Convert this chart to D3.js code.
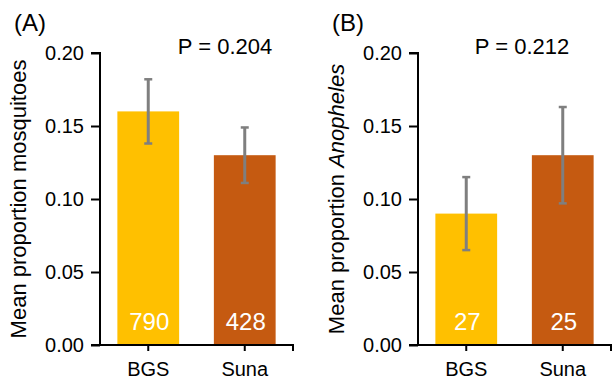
<!DOCTYPE html>
<html><head><meta charset="utf-8">
<script src="https://cdn.jsdelivr.net/npm/d3@7"></script>
<style>body{margin:0;background:#fff;} svg{display:block;font-family:"Liberation Sans",Arial,sans-serif;}</style>
</head><body><svg id="c" width="612" height="381"></svg>
<script>
const categories = ["BGS", "Suna"];
const colors = ["#FFC000", "#C55A11"];
const mosqMean = [0.16, 0.13];
const mosqLow = [0.138, 0.111];
const mosqHigh = [0.182, 0.149];
const mosqN = ["790", "428"];
const anoMean = [0.09, 0.13];
const anoLow = [0.065, 0.097];
const anoHigh = [0.115, 0.163];
const anoN = ["27", "25"];
const yTicks = [0, 0.05, 0.10, 0.15, 0.20];
const panels = [
  {label: "(A)", p: "P = 0.204", mean: mosqMean, lo: mosqLow, hi: mosqHigh, n: mosqN, x0: 100, x1: 293, pX: 225, titleX: 26, title: [["Mean proportion mosquitoes", false]]},
  {label: "(B)", p: "P = 0.212", mean: anoMean, lo: anoLow, hi: anoHigh, n: anoN, x0: 418, x1: 611, pX: 522, titleX: 344, title: [["Mean proportion ", false], ["Anopheles", true]]}
];
const svg = d3.select("#c");
const y = d3.scaleLinear().domain([0, 0.2]).range([345, 53]);

panels.forEach((P, pi) => {
  const g = svg.append("g");
  const x = d3.scaleBand().domain(categories).range([P.x0, P.x1]).paddingInner(0.36).paddingOuter(0.18);
  g.selectAll("rect.bar").data(categories).enter().append("rect")
    .attr("x", d => x(d)).attr("width", x.bandwidth())
    .attr("y", (d, i) => y(P.mean[i])).attr("height", (d, i) => y(0) - y(P.mean[i]))
    .attr("fill", (d, i) => colors[i]);
  const eb = g.selectAll("g.eb").data(categories).enter().append("g")
    .attr("stroke", "#7F7F7F").attr("fill", "none");
  eb.append("line").attr("x1", d => x(d) + x.bandwidth()/2).attr("x2", d => x(d) + x.bandwidth()/2)
    .attr("y1", (d, i) => y(P.lo[i])).attr("y2", (d, i) => y(P.hi[i])).attr("stroke-width", 3);
  [P.lo, P.hi].forEach(arr => {
    eb.append("line").attr("x1", d => x(d) + x.bandwidth()/2 - 4).attr("x2", d => x(d) + x.bandwidth()/2 + 4)
      .attr("y1", (d, i) => y(arr[i])).attr("y2", (d, i) => y(arr[i])).attr("stroke-width", 2.5);
  });
  g.selectAll("text.n").data(categories).enter().append("text")
    .attr("x", (d) => x(d) + x.bandwidth()/2 + 1).attr("y", 330)
    .attr("text-anchor", "middle").attr("fill", "#fff").attr("font-size", 24)
    .text((d, i) => P.n[i]);
  const ya = g.append("g").attr("transform", `translate(${P.x0},0)`)
    .call(d3.axisLeft(y).tickValues(yTicks).tickFormat(d3.format(".2f")).tickSize(9).tickPadding(7));
  ya.select(".domain").attr("stroke", "#000").attr("stroke-width", 2).attr("d", `M-9,${y(0.2)}H0V${y(0)}`);
  ya.selectAll(".tick line").attr("stroke", "#000").attr("stroke-width", 2);
  ya.selectAll(".tick text").attr("font-size", 20).attr("fill", "#000").attr("font-family", "Liberation Sans, Arial, sans-serif");
  const xa = g.append("g").attr("transform", `translate(0,${y(0)})`)
    .call(d3.axisBottom(x).tickSize(6).tickPadding(11));
  xa.select(".domain").attr("stroke", "#000").attr("stroke-width", 2).attr("d", `M${P.x0-9},0H${P.x1}V6`);
  xa.selectAll(".tick line").attr("stroke", "#000").attr("stroke-width", 2);
  xa.selectAll(".tick text").attr("font-size", 20).attr("fill", "#000").attr("font-family", "Liberation Sans, Arial, sans-serif");
  g.append("text").attr("x", P.x0 - 86).attr("y", 31).attr("font-size", 24).text(P.label);
  g.append("text").attr("x", P.pX).attr("y", 54).attr("text-anchor", "middle").attr("font-size", 22).text(P.p);
  const t = g.append("text").attr("transform", `translate(${P.titleX},${(y(0)+y(0.2))/2}) rotate(-90)`)
    .attr("text-anchor", "middle").attr("font-size", 22);
  P.title.forEach(([s, it]) => t.append("tspan").attr("font-style", it ? "italic" : "normal").text(s));
});
</script></body></html>
